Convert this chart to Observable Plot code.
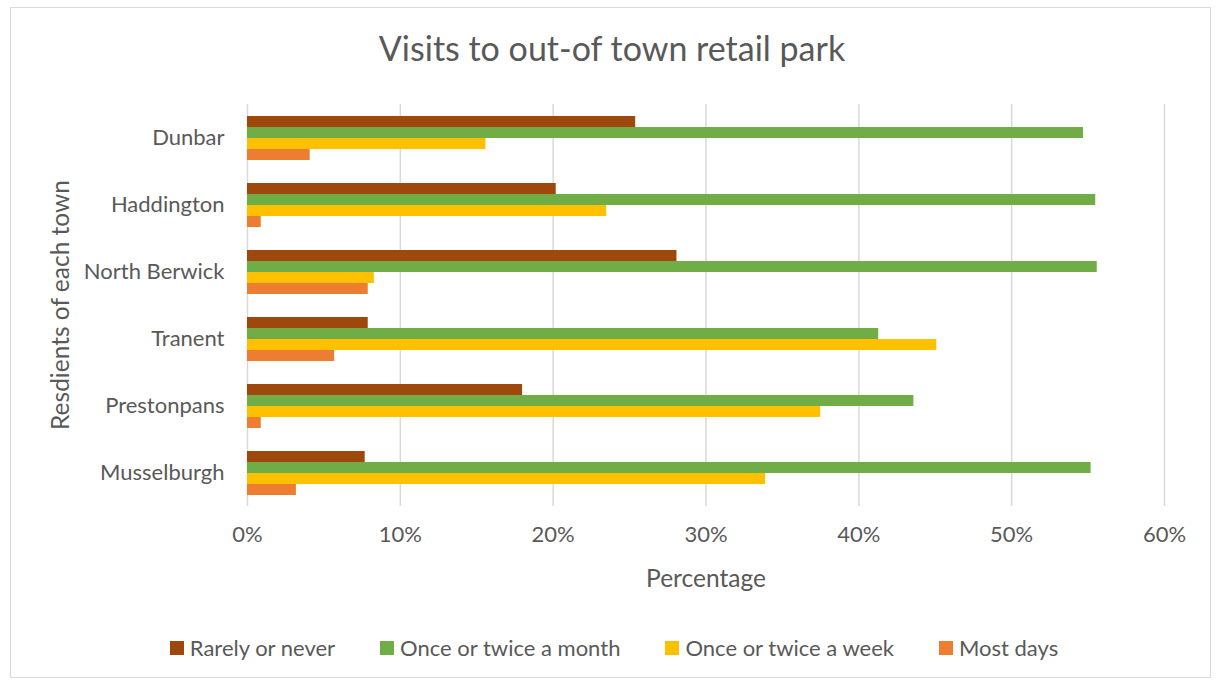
<!DOCTYPE html>
<html>
<head>
<meta charset="utf-8">
<script src="https://cdn.jsdelivr.net/npm/d3@7"></script>
<script src="https://cdn.jsdelivr.net/npm/@observablehq/plot@0.6"></script>
<style>
  body { margin: 0; background: #fff; font-family: Lato, "Open Sans", sans-serif; color: #595959; }
  #frame { position: absolute; left: 10px; top: 7px; width: 1201px; height: 671px; border: 1px solid #d9d9d9; box-sizing: border-box; }
  #wrap { position: absolute; left: 0; top: 0; width: 1216px; }
  #title { height: 96px; box-sizing: border-box; padding-top: 31px; text-align: center; font-size: 34px; line-height: 1; padding-left: 8px; }
  #legend { display: flex; justify-content: center; gap: 45px; font-size: 22px; padding-top: 34px; padding-left: 12px; }
  .item { display: flex; align-items: center; }
  .sw { width: 14px; height: 14px; margin-right: 6px; }
  #ytitle { position: absolute; left: 60px; top: 305px; transform: translate(-50%, -50%) rotate(-90deg); white-space: nowrap; font-size: 24.5px; line-height: 1; }
  #xtitle { position: absolute; left: 706px; top: 578px; transform: translate(-50%, -50%); white-space: nowrap; font-size: 24.5px; line-height: 1; }
</style>
</head>
<body>
<div id="frame"></div>
<div id="wrap">
  <div id="title">Visits to out-of town retail park</div>
  <div id="chart"></div>
  <div id="legend"></div>
</div>
<div id="ytitle">Resdients of each town</div>
<div id="xtitle">Percentage</div>
<script>
const towns = ["Dunbar", "Haddington", "North Berwick", "Tranent", "Prestonpans", "Musselburgh"];
const series = ["Rarely or never", "Once or twice a month", "Once or twice a week", "Most days"];
const colors = ["#9E480E", "#70AD47", "#FFC000", "#ED7D31"];
const rarely   = [25.4, 20.2, 28.1, 7.9, 18.0, 7.7];
const monthly  = [54.7, 55.5, 55.6, 41.3, 43.6, 55.2];
const weekly   = [15.6, 23.5, 8.3, 45.1, 37.5, 33.9];
const mostDays = [4.1, 0.9, 7.9, 5.7, 0.9, 3.2];
const xTicks = [0, 10, 20, 30, 40, 50, 60];

const seriesValues = [rarely, monthly, weekly, mostDays];
const data = [];
towns.forEach((t, i) => {
  series.forEach((s, j) => data.push({town: t, series: s, value: seriesValues[j][i]}));
});

const chart = Plot.plot({
  width: 1216,
  height: 504,
  marginLeft: 247,
  marginRight: 52,
  marginTop: 8,
  marginBottom: 94,
  style: {fontFamily: "Lato, 'Open Sans', sans-serif", fontSize: "22px", color: "#595959", background: "transparent"},
  facet: {data, y: "town"},
  fy: {domain: towns, padding: 0, label: null, tickSize: 0, tickPadding: 23, axis: "left"},
  y: {domain: series, axis: null, paddingInner: 0, paddingOuter: 0.91},
  x: {domain: [0, 60], ticks: xTicks, tickFormat: d => d + "%", label: null, tickSize: 0, tickPadding: 20},
  color: {domain: series, range: colors},
  marks: [
    Plot.gridX(xTicks, {stroke: "#d9d9d9", strokeOpacity: 1, strokeWidth: 1.5}),
    Plot.barX(data, {x: "value", y: "series", fill: "series"})
  ]
});
document.getElementById("chart").appendChild(chart);

const legend = d3.select("#legend");
series.forEach((s, i) => {
  const it = legend.append("div").attr("class", "item");
  it.append("div").attr("class", "sw").style("background", colors[i]);
  it.append("span").text(s);
});
</script>
</body>
</html>
